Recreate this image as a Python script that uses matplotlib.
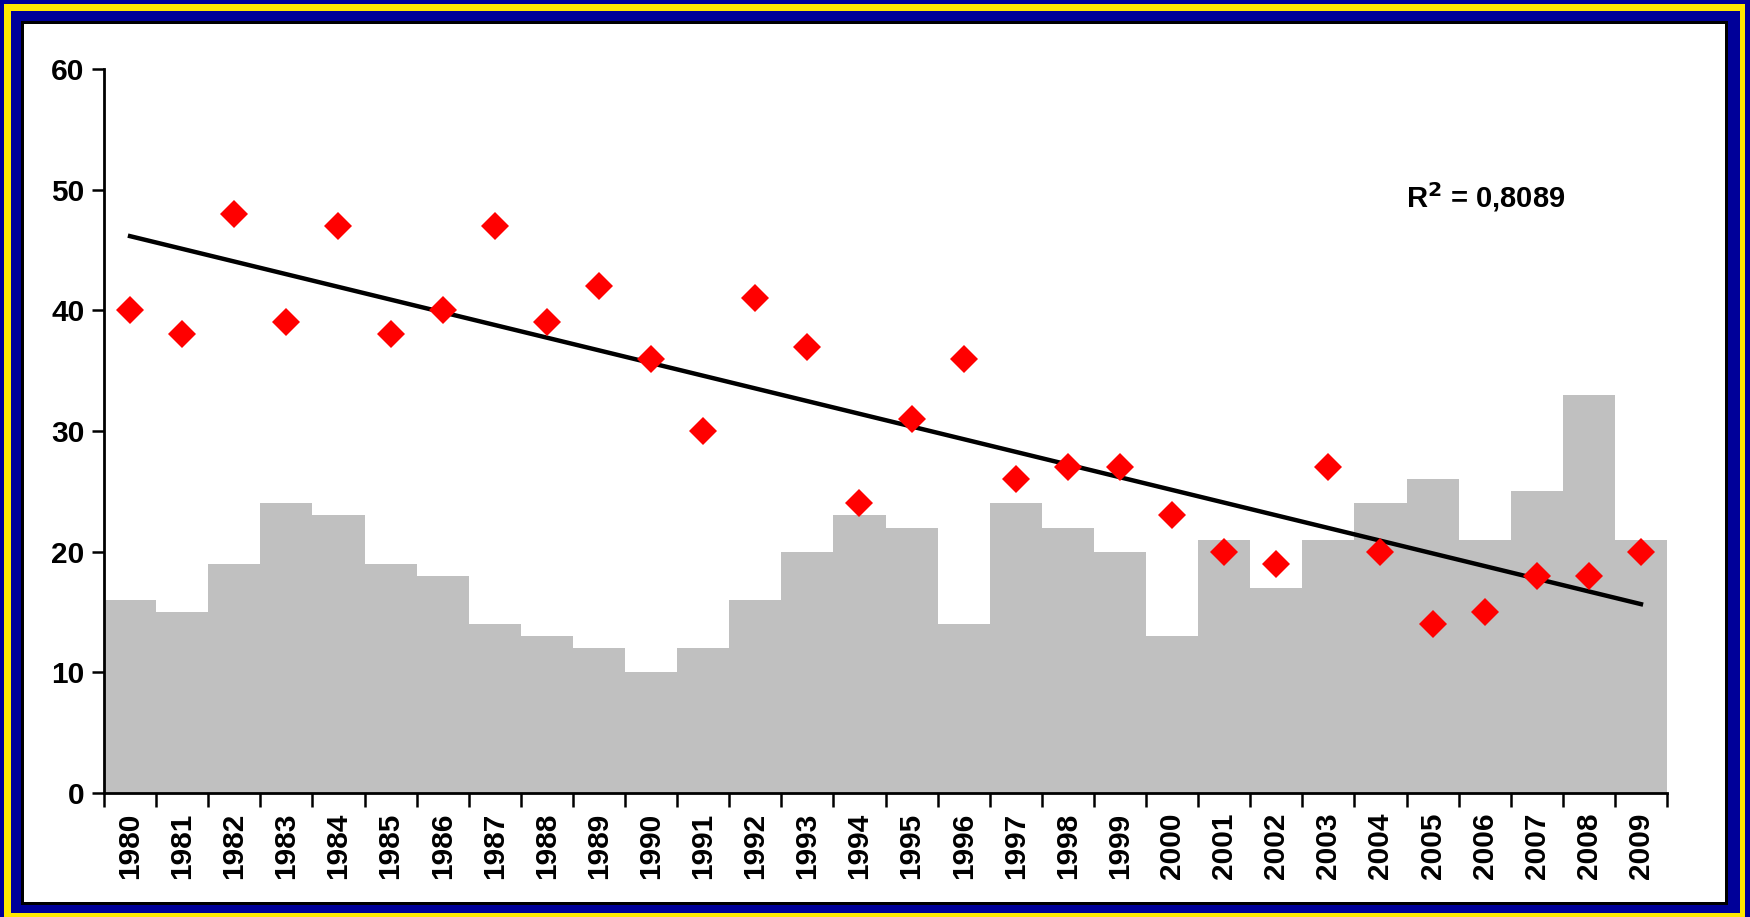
import numpy as np
import matplotlib
matplotlib.use("Agg")
import matplotlib.pyplot as plt
from matplotlib.patches import Rectangle

# data
years = list(range(1980, 2010))
bars = [16, 15, 19, 24, 23, 19, 18, 14, 13, 12, 10, 12, 16, 20, 23,
        22, 14, 24, 22, 20, 13, 21, 17, 21, 24, 26, 21, 25, 33, 21]
points = [40, 38, 48, 39, 47, 38, 40, 47, 39, 42, 36, 30, 41, 37, 24,
          31, 36, 26, 27, 27, 23, 20, 19, 27, 20, 14, 15, 18, 18, 20]
r2_label = "R$^2$ = 0,8089"

plt.rcParams['font.family'] = ['Liberation Sans', 'DejaVu Sans']
plt.rcParams['font.weight'] = 'bold'

W, H = 1750, 917
fig = plt.figure(figsize=(W / 100, H / 100), dpi=100)
fig.patch.set_facecolor('#000099')

# frame, in pixels from the top left
def frame(x0, y0, x1, y1, color):
    fig.patches.append(Rectangle((x0 / W, 1 - y1 / H), (x1 - x0) / W, (y1 - y0) / H,
                                 transform=fig.transFigure, facecolor=color,
                                 edgecolor='none', zorder=-10))

frame(4, 4, 1745, 918, '#FFE800')
frame(11, 11, 1740, 913, '#000099')
frame(21, 21, 1728, 905, 'black')
frame(24, 24, 1725, 902, 'white')

ax = fig.add_axes([104 / W, 1 - 793 / H, (1667 - 104) / W, (793 - 69) / H])
ax.set_facecolor('none')

x = np.arange(len(years))
ax.bar(x, bars, width=1.0, color='#C0C0C0', linewidth=0, zorder=1)

# linear trend
k, b = np.polyfit(x, points, 1)
ax.plot(x, k * x + b, color='black', lw=3.2, zorder=2)
ax.plot(x, points, linestyle='none', marker='D', markersize=14,
        color='red', mew=0, zorder=3)

ax.text(0.833, 0.823, r2_label, transform=ax.transAxes, fontsize=21,
        fontweight='bold', ha='left', va='center')

ax.set_xlim(-0.5, len(years) - 0.5)
ax.set_ylim(0, 60)
ax.set_yticks(range(0, 61, 10))
ax.set_xticks(np.arange(-0.5, len(years), 1.0))
ax.set_xticklabels([])
ax.set_xticks(x, minor=True)
ax.set_xticklabels([str(y) for y in years], minor=True, rotation=90,
                   fontsize=21.5, fontweight='bold')
ax.tick_params(axis='x', which='major', length=10, width=1.8, direction='out')
ax.tick_params(axis='x', which='minor', length=0, pad=14)
ax.tick_params(axis='y', length=9, width=1.8, direction='out', pad=5, labelsize=21.5)
for lab in ax.get_yticklabels():
    lab.set_fontweight('bold')

for s in ['top', 'right']:
    ax.spines[s].set_visible(False)
for s in ['left', 'bottom']:
    ax.spines[s].set_linewidth(2)
    ax.spines[s].set_zorder(4)

fig.savefig('out.png', dpi=100, facecolor=fig.get_facecolor())
